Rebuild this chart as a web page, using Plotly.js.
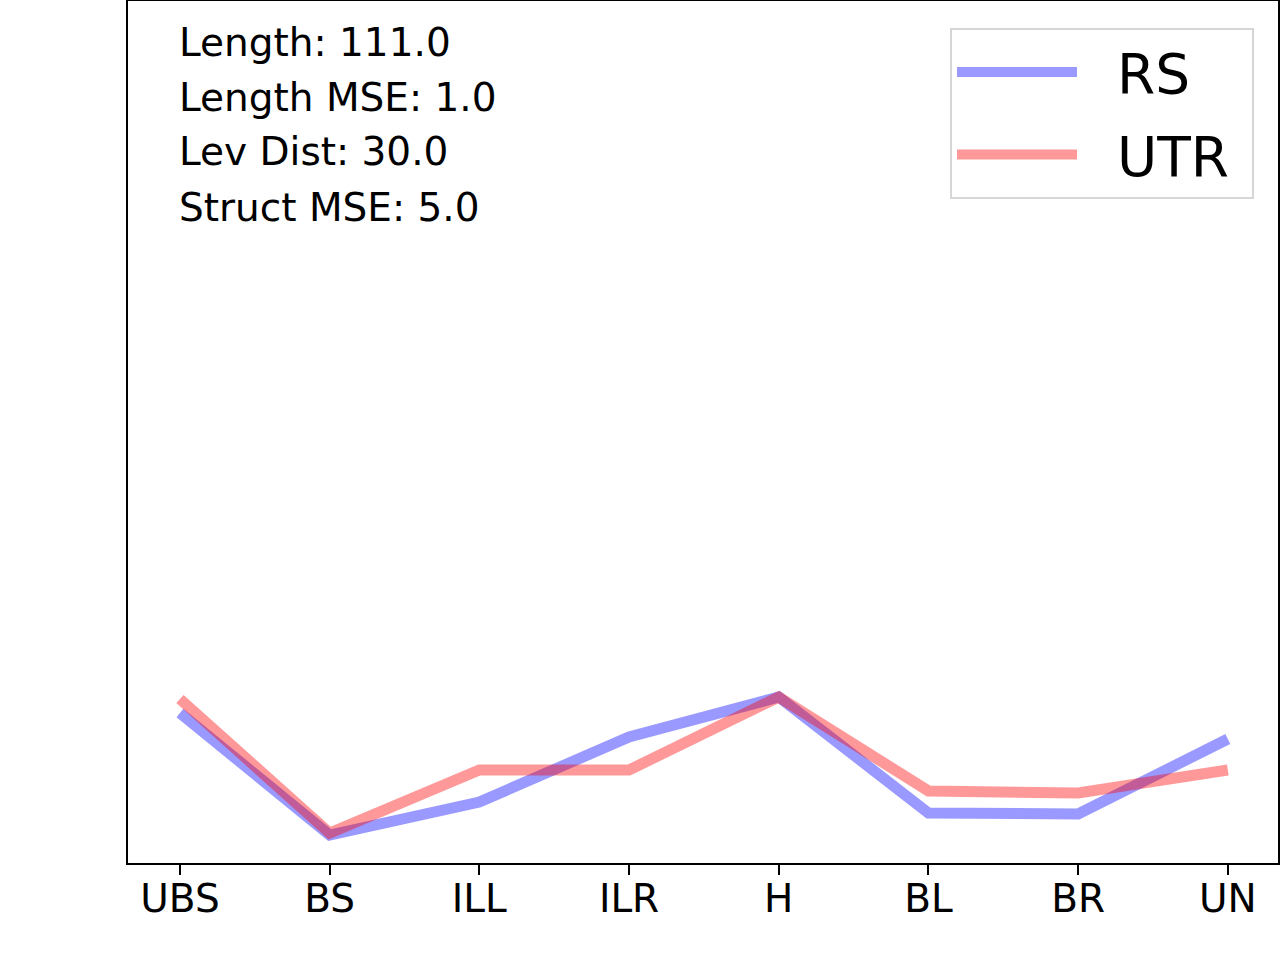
<!DOCTYPE html>
<html>
<head>
<meta charset="utf-8">
<script src="https://cdn.plot.ly/plotly-3.0.1.min.js"></script>
<style>
  html, body { margin: 0; padding: 0; background: #fff; }
  #chart { width: 1280px; height: 960px; }
</style>
</head>
<body>
<div id="chart"></div>
<script>
// categories on the x axis
let regions = ['UBS', 'BS', 'ILL', 'ILR', 'H', 'BL', 'BR', 'UN'];

// series values (no y scale shown in the original, read as relative heights)
let rsValues = [1.50, 0.28, 0.61, 1.26, 1.66, 0.50, 0.49, 1.24];
let utrValues = [1.64, 0.30, 0.93, 0.93, 1.66, 0.72, 0.70, 0.93];

// text block at the top left
let statLines = ['Length: 111.0', 'Length MSE: 1.0', 'Lev Dist: 30.0', 'Struct MSE: 5.0'];

let font = 'DejaVu Sans, sans-serif';
let pad = '\u00a0\u00a0'; // room between legend line and label

let rsTrace = {
  type: 'scatter',
  mode: 'lines',
  name: pad + 'RS',
  legendgroup: 'rs',
  x: regions,
  y: rsValues,
  line: { color: 'rgba(0,0,255,0.4)', width: 11 },
};

let utrTrace = {
  type: 'scatter',
  mode: 'lines',
  name: pad + 'UTR\u00a0',
  legendgroup: 'utr',
  x: regions,
  y: utrValues,
  line: { color: 'rgba(255,0,0,0.4)', width: 11 },
};

// one annotation per line so the spacing can follow the original
let annotations = statLines.map((txt, i) => ({
  xref: 'paper',
  yref: 'paper',
  x: 0.0426,
  y: (863 - (42 + 55 * i)) / 862,
  xanchor: 'left',
  yanchor: 'middle',
  text: txt,
  showarrow: false,
  font: { family: font, size: 39, color: '#000' },
}));

let layout = {
  width: 1280,
  height: 960,
  margin: { l: 128, r: 2, t: 1, b: 97 },
  paper_bgcolor: '#fff',
  plot_bgcolor: '#fff',
  font: { family: font, color: '#000' },
  showlegend: true,
  legend: {
    x: (950 - 128) / 1150,
    y: 0.969,
    xanchor: 'left',
    yanchor: 'top',
    bgcolor: '#fff',
    bordercolor: '#d6d6d6',
    borderwidth: 2,
    itemwidth: 120,
    tracegroupgap: 8,
    font: { family: font, size: 55, color: '#000' },
  },
  xaxis: {
    type: 'category',
    range: [-0.347, 7.335],
    showline: true,
    mirror: true,
    linecolor: '#000',
    linewidth: 2,
    showgrid: false,
    zeroline: false,
    ticks: 'outside',
    ticklen: 10,
    tickwidth: 2,
    tickcolor: '#000',
    ticklabelstandoff: -10,
    tickfont: { family: font, size: 39, color: '#000' },
  },
  yaxis: {
    range: [0, 8.62],
    showline: true,
    mirror: true,
    linecolor: '#000',
    linewidth: 2,
    showgrid: false,
    zeroline: false,
    showticklabels: false,
    ticks: '',
  },
  annotations: annotations,
};

Plotly.newPlot('chart', [rsTrace, utrTrace], layout, { displayModeBar: false, staticPlot: true });
</script>
</body>
</html>
